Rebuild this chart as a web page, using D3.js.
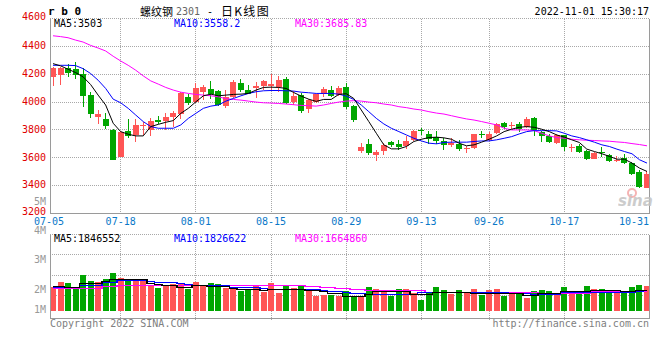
<!DOCTYPE html>
<html><head><meta charset="utf-8">
<script src="https://cdn.jsdelivr.net/npm/d3@7"></script>
<style>
body{margin:0;background:#fff}
svg{display:block}
text{font-family:"DejaVu Sans Mono",monospace;font-size:10px}
</style>
</head><body><svg id="c" width="660" height="360"></svg>
<script>
// ---------------- data ----------------
const dates = [
 "07-05","07-06","07-07","07-08","07-11","07-12","07-13","07-14","07-15","07-18","07-19","07-20","07-21","07-22","07-25","07-26","07-27","07-28","07-29",
 "08-01","08-02","08-03","08-04","08-05","08-08","08-09","08-10","08-11","08-12","08-15","08-16","08-17","08-18","08-19","08-22","08-23","08-24","08-25","08-26","08-29","08-30","08-31",
 "09-01","09-02","09-05","09-06","09-07","09-08","09-09","09-13","09-14","09-15","09-16","09-19","09-20","09-21","09-22","09-23","09-26","09-27","09-28","09-29","09-30",
 "10-10","10-11","10-12","10-13","10-14","10-17","10-18","10-19","10-20","10-21","10-24","10-25","10-26","10-27","10-28","10-31",
 "11-01"];
const open = [4181,4198,4248,4236,4200,4050,3898,3881,3802,3610, 3795,3767,3826,3800,3874,3864,3895,3910,4036,4002,
 4071,4093,4079,3971,4038,4136,4090,4100,4114,4114, 4110,4164,4000,4048,3948,4000,4057,4090,4050,4107,
 3971,3652,3700,3624,3652,3712,3698,3679,3729,3800, 3771,3752,3717,3688,3700,3662,3667,3769,3729,3774,
 3848,3826,3843,3817,3883,3783,3757,3702,3762,3667, 3686,3650,3590,3638,3617,3579,3595,3562,3495,3388];
const high = [4250,4252,4274,4286,4248,4071,3943,3919,3805,3790, 3881,3881,3860,3883,3900,3919,3938,4071,4055,4136,
 4119,4152,4090,4086,4157,4164,4119,4145,4157,4200, 4186,4179,4081,4062,4019,4060,4105,4114,4114,4138,
 3981,3707,3736,3655,3705,3717,3729,3757,3802,3812, 3793,3793,3740,3740,3729,3686,3774,3795,3788,3848,
 3857,3857,3860,3890,3890,3795,3769,3771,3765,3700, 3698,3655,3640,3676,3624,3610,3626,3571,3510,3503];
const low = [4114,4121,4179,4167,3967,3888,3845,3810,3584,3605, 3745,3710,3767,3757,3845,3800,3824,3876,3976,3995,
 4014,4019,3975,3960,4031,4074,4055,4031,4086,4081, 4071,3983,3979,3924,3924,3993,4038,4038,4043,3952,
 3857,3633,3621,3574,3617,3681,3655,3662,3717,3764, 3700,3698,3657,3681,3652,3633,3662,3740,3721,3770,
 3810,3805,3786,3814,3760,3710,3705,3698,3652,3638, 3631,3586,3588,3605,3567,3567,3558,3476,3386,3385];
const close = [4245,4248,4210,4193,4045,3910,3917,3831,3586,3786, 3762,3836,3833,3867,3862,3893,3924,4062,3990,4100,
 4110,4057,3979,4038,4143,4086,4062,4114,4150,4129, 4157,3995,4043,3931,4014,4055,4093,4050,4100,3967,
 3871,3681,3633,3643,3693,3693,3674,3717,3793,3795, 3733,3721,3690,3705,3662,3671,3771,3762,3769,3840,
 3821,3836,3807,3876,3795,3752,3714,3762,3674,3676, 3645,3590,3636,3629,3571,3586,3560,3486,3390,3486];
const ma5 = [4276,4260,4236,4212,4181,4126,4050,3979,3848,3788, 3769,3757,3757,3824,3840,3855,3867,3919,3955,4002,
 4045,4057,4045,4050,4055,4057,4062,4086,4105,4107, 4105,4098,4069,4043,4021,4005,4019,4019,4055,4060,
 4026,3943,3860,3776,3693,3664,3664,3681,3717,3733, 3745,3748,3743,3733,3705,3686,3693,3712,3733,3757,
 3788,3805,3819,3824,3819,3805,3788,3764,3748,3729, 3710,3662,3645,3629,3610,3590,3590,3562,3526,3502];
const ma10 = [4264,4264,4264,4262,4240,4205,4157,4098,4021,3995, 3955,3907,3860,3824,3812,3812,3812,3836,3883,3919,
 3955,3971,3979,4007,4026,4045,4062,4074,4081,4083, 4083,4081,4079,4071,4067,4062,4062,4062,4057,4043,
 4019,3979,3931,3883,3843,3812,3788,3764,3740,3721, 3705,3700,3710,3712,3712,3712,3717,3721,3721,3729,
 3740,3752,3771,3788,3795,3795,3795,3793,3776,3757, 3745,3729,3712,3693,3681,3662,3645,3629,3586,3562];
const ma30 = [4476,4470,4462,4445,4431,4407,4388,4367,4329,4295, 4264,4229,4188,4152,4129,4105,4086,4071,4062,4055,
 4050,4045,4038,4024,4019,4014,4007,4000,3995,3993, 3990,3986,3981,3976,3974,3971,3979,3990,4000,4007,
 4010,4007,4000,3995,3986,3979,3967,3960,3950,3943, 3931,3921,3914,3902,3890,3879,3871,3860,3848,3836,
 3812,3800,3800,3800,3795,3776,3757,3745,3740,3733, 3729,3726,3724,3721,3719,3714,3710,3702,3695,3686];
// volume, millions of lots
const volume = [2.19,2.45,2.40,2.14,2.80,2.50,2.45,2.60,2.90,2.65, 2.52,2.59,2.52,2.27,2.15,2.32,2.34,2.39,2.10,2.45,
 2.30,2.40,2.35,2.15,2.20,2.00,2.10,2.27,1.97,2.40, 1.90,2.27,2.17,2.29,2.09,1.77,1.80,1.80,1.75,2.00,
 1.75,1.75,2.20,2.10,2.02,1.77,2.10,2.10,1.90,1.55, 1.95,2.20,2.05,1.85,2.05,1.95,2.10,1.80,2.05,2.10,
 1.77,1.90,1.90,1.65,2.00,2.05,2.00,1.90,2.20,2.00, 1.90,2.25,2.10,2.10,2.00,2.00,1.90,2.20,2.30,2.25];
const volMa5 = [2.22,2.22,2.19,2.19,2.37,2.37,2.37,2.47,2.58,2.58, 2.58,2.59,2.58,2.39,2.35,2.27,2.27,2.17,2.17,2.27,
 2.27,2.24,2.24,2.24,2.14,2.09,2.09,2.09,2.04,2.10, 2.10,2.10,2.10,2.10,2.05,2.05,1.97,1.87,1.87,1.74,
 1.74,1.74,1.85,1.97,1.97,1.97,1.97,1.97,1.85,1.85, 1.85,1.95,1.95,1.95,1.95,1.95,1.89,1.89,1.89,1.89,
 1.89,1.89,1.89,1.80,1.80,1.89,1.89,1.89,1.97,1.97, 1.97,1.97,2.05,2.05,2.05,2.05,1.97,1.97,2.05,2.05];
const volMa10 = [2.17,2.17,2.17,2.17,2.30,2.30,2.30,2.42,2.42,2.54, 2.54,2.54,2.54,2.47,2.44,2.44,2.44,2.37,2.33,2.29,
 2.29,2.29,2.29,2.29,2.20,2.17,2.17,2.17,2.12,2.10, 2.10,2.10,2.10,2.10,2.10,2.10,2.04,1.97,1.97,1.92,
 1.88,1.88,1.84,1.84,1.84,1.84,1.84,1.84,1.84,1.92, 1.92,1.92,1.92,1.92,1.92,1.92,1.92,1.92,1.92,1.92,
 1.92,1.90,1.90,1.90,1.85,1.85,1.85,1.85,1.95,1.95, 1.95,1.95,1.95,1.95,1.95,1.95,1.95,1.95,2.00,2.05];
const volMa30 = [2.14,2.14,2.14,2.14,2.14,2.14,2.14,2.22,2.22,2.30, 2.30,2.30,2.30,2.30,2.30,2.30,2.30,2.30,2.30,2.30,
 2.30,2.30,2.30,2.30,2.30,2.30,2.30,2.30,2.30,2.30, 2.30,2.30,2.30,2.30,2.25,2.25,2.19,2.19,2.14,2.14,
 2.09,2.09,2.02,2.02,2.02,2.02,2.02,2.02,2.02,2.02, 1.95,1.95,1.95,1.95,1.95,1.95,1.95,1.95,1.95,1.92,
 1.92,1.92,1.92,1.92,1.92,1.89,1.89,1.89,1.89,1.89, 1.89,1.89,1.97,1.97,1.97,1.97,1.97,1.97,1.97,1.97];
const priceTicks = [4600,4400,4200,4000,3800,3600,3400,3200];
const dateTicks = ["07-05","07-18","08-01","08-15","08-29","09-13","09-26","10-17","10-31"];
const volTicks = [5,4,3,2,1];
const volTickLabels = ["5M","4M","3M","2M","1M"];
const headerMA = [["MA5:3503","#000"],["MA10:3558.2","#0000ff"],["MA30:3685.83","#ff00ff"]];
const volHeaderMA = [["MA5:1846552","#000"],["MA10:1826622","#0000ff"],["MA30:1664860","#ff00ff"]];

// ---------------- layout ----------------
const L = 50, R = 650;
const UP = "#ff5555", DOWN = "#00a600", GRID = "#a8a8a8", BORDER = "#9a9a9a";
const svg = d3.select("#c");
svg.append("rect").attr("width",660).attr("height",360).attr("fill","#fff");
const snap = v => Math.round(v - 0.5) + 0.5;

const x = d3.scaleBand().domain(d3.range(dates.length)).range([L, R]).paddingInner(0.2).paddingOuter(0);
const bw = x.bandwidth();
const cx = i => x(i) + bw / 2;
const y = d3.scaleLinear().domain([3200, 4600]).range([213.5, 18.5]);
const yV = d3.scaleLinear().domain([1, 2]).range([311, 291]);
const volTop = 234.5, volBottom = 318.5, volBase = yV(1);

const tickIdx = dateTicks.map(d => dates.indexOf(d));
const gridX = tickIdx.slice(1, -1).map(i => snap(cx(i)));

const g = svg.append("g").attr("shape-rendering","crispEdges");

// price grid
g.selectAll(".hg").data(priceTicks.slice(0, -1)).join("line")
 .attr("x1", L).attr("x2", R - 1).attr("y1", d => snap(y(d))).attr("y2", d => snap(y(d)))
 .attr("stroke", GRID).attr("stroke-dasharray","1,1");
g.selectAll(".vg").data(gridX).join("line")
 .attr("x1", d => d).attr("x2", d => d).attr("y1", snap(y(4600))).attr("y2", snap(y(3200)))
 .attr("stroke", GRID).attr("stroke-dasharray","1,1");
// volume grid
const volGridRows = d3.range(1, 4).map(k => snap(volTop + k * 20.3));
g.selectAll(".vhg").data([volTop, ...volGridRows]).join("line")
 .attr("x1", L).attr("x2", R - 1).attr("y1", d => snap(d)).attr("y2", d => snap(d))
 .attr("stroke", GRID).attr("stroke-dasharray","1,1");
g.selectAll(".vvg").data(gridX).join("line")
 .attr("x1", d => d).attr("x2", d => d).attr("y1", volTop).attr("y2", volBottom + 2)
 .attr("stroke", GRID).attr("stroke-dasharray","1,1");

// candles
const idx = d3.range(dates.length);
const col = i => close[i] >= open[i] ? UP : DOWN;
g.selectAll(".wick").data(idx).join("line")
 .attr("x1", i => snap(cx(i))).attr("x2", i => snap(cx(i)))
 .attr("y1", i => y(high[i])).attr("y2", i => y(low[i]))
 .attr("stroke", col);
g.selectAll(".body").data(idx).join("rect")
 .attr("x", i => Math.round(x(i))).attr("width", Math.round(bw))
 .attr("y", i => Math.round(y(Math.max(open[i], close[i]))))
 .attr("height", i => Math.max(1, Math.round(Math.abs(y(open[i]) - y(close[i])))))
 .attr("fill", col);

// MA lines (price)
const line = d3.line().x((d, i) => cx(i)).y(d => y(d));
[[ma30,"#ff00ff"],[ma10,"#0000ff"],[ma5,"#000000"]].forEach(([arr, c]) => {
  svg.append("path").attr("d", line(arr)).attr("fill","none").attr("stroke", c).attr("stroke-width", 1);
});

// volume bars
g.selectAll(".vol").data(idx).join("rect")
 .attr("x", i => Math.round(x(i))).attr("width", Math.round(bw))
 .attr("y", i => Math.round(yV(volume[i])))
 .attr("height", i => Math.round(volBase - yV(volume[i])))
 .attr("fill", col);
const vline = d3.line().x((d, i) => cx(i)).y(d => snap(yV(d))).curve(d3.curveStep);
[[volMa30,"#ff00ff"],[volMa10,"#0000ff"],[volMa5,"#000000"]].forEach(([arr, c]) => {
  g.append("path").attr("d", vline(arr)).attr("fill","none").attr("stroke", c).attr("stroke-width", 1.5);
});

// borders
const border = (x1, y1, x2, y2) => g.append("line").attr("x1", x1).attr("y1", y1).attr("x2", x2).attr("y2", y2).attr("stroke", BORDER);
border(L + 0.5, snap(y(4600)), L + 0.5, snap(y(3200)));
border(R - 0.5, snap(y(4600)), R - 0.5, snap(y(3200)));
border(L, snap(y(3200)), R, snap(y(3200)));
border(L + 0.5, volTop, L + 0.5, volBottom);
border(R - 0.5, volTop, R - 0.5, volBottom);
border(L, volBottom, R, volBottom);

// price axis labels
svg.selectAll(".pl").data(priceTicks).join("text")
 .attr("x", 46).attr("y", (d, i) => y(d) + (i === 0 ? 1 : (i === priceTicks.length - 1 ? 1.8 : 2.8)))
 .attr("text-anchor","end").attr("fill","#e00000").text(d => d);
// volume axis labels
const volLabelY = d3.scaleLinear().domain([2, 5]).range([292.9, 204.6]);
svg.selectAll(".vl").data(volTicks).join("text")
 .attr("x", 46).attr("y", d => Math.min(volLabelY(d), 312.6))
 .attr("text-anchor","end").attr("fill","#999").text((d, i) => volTickLabels[i]);
// date labels
svg.selectAll(".dl").data(dateTicks).join("text")
 .attr("x", (d, k) => k === 0 ? L - 1 : (k === dateTicks.length - 1 ? R - 1 : cx(tickIdx[k])))
 .attr("y", 225)
 .attr("text-anchor", (d, k) => k === dateTicks.length - 1 ? "end" : "middle")
 .attr("fill","#0a78c8").text(d => d);

// header
svg.append("text").attr("x", 48).attr("y", 15).style("font-size","11px").style("font-weight","bold").text("r b 0");
const cjk = '"Noto Sans CJK SC",sans-serif';
svg.append("text").attr("x", 140).attr("y", 16).style("font-family", cjk).style("font-size","11px").text("螺纹钢");
svg.append("text").attr("x", 176).attr("y", 15).attr("fill","#666").text("2301");
svg.append("text").attr("x", 207).attr("y", 15).text("-");
svg.append("text").attr("x", 221).attr("y", 16).style("font-family", cjk).style("font-size","12px").attr("letter-spacing", 1.3).text("日K线图");
svg.append("text").attr("x", 649).attr("y", 15).attr("text-anchor","end").text("2022-11-01 15:30:17");
const maX = [54, 174, 295];
svg.selectAll(".mh").data(headerMA).join("text").attr("x", (d, i) => maX[i]).attr("y", 27).attr("fill", d => d[1]).text(d => d[0]);
svg.selectAll(".vmh").data(volHeaderMA).join("text").attr("x", (d, i) => maX[i]).attr("y", 242).attr("fill", d => d[1]).text(d => d[0]);

// footer
svg.append("text").attr("x", 50).attr("y", 327).attr("fill","#808080").text("Copyright 2022 SINA.COM");
svg.append("text").attr("x", 649).attr("y", 327).attr("text-anchor","end").attr("fill","#808080").text("http://finance.sina.com.cn");

// sina watermark
svg.append("circle").attr("cx", 632).attr("cy", 193).attr("r", 4).attr("fill","none").attr("stroke","#f2a0a0").attr("stroke-width", 2).attr("opacity", 0.8);
svg.append("text").attr("x", 618).attr("y", 206).style("font-family","DejaVu Sans").style("font-style","italic").style("font-weight","bold").style("font-size","15px").attr("fill","#c4c4c4").attr("opacity",0.85).text("sina");
</script>
</body></html>
